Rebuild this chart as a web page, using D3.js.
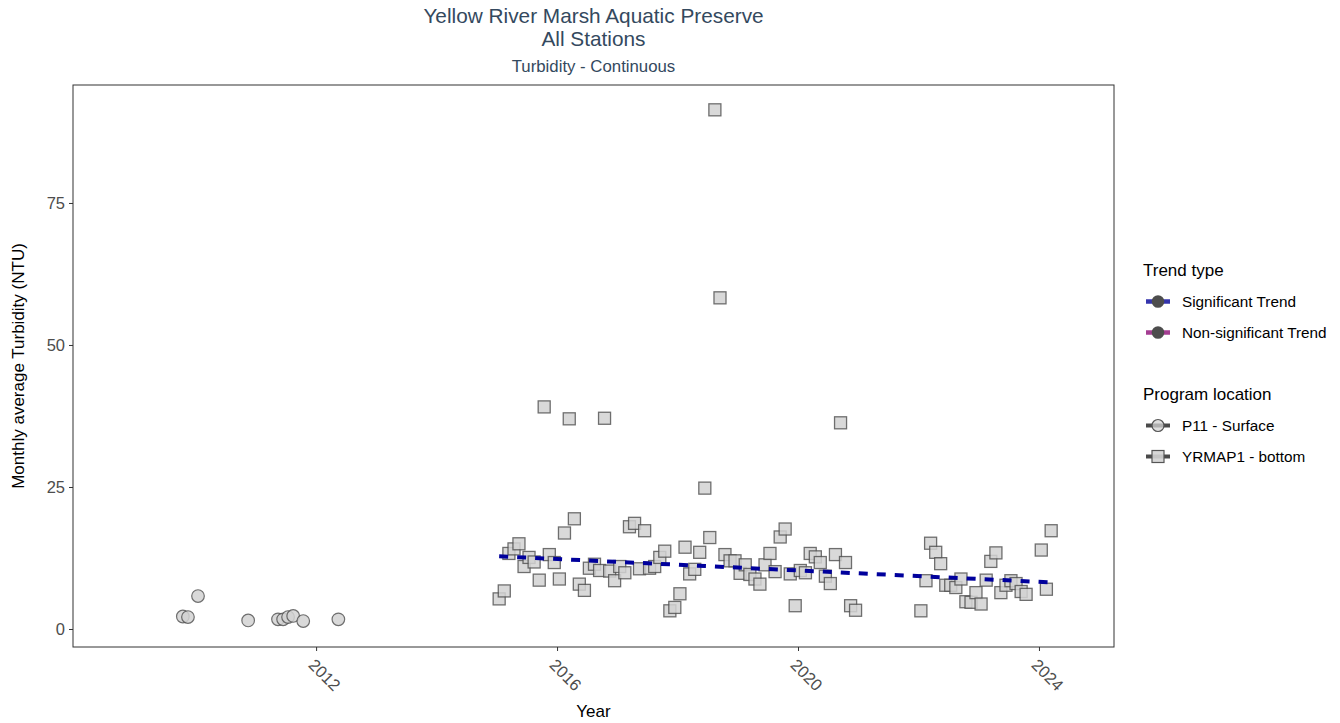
<!DOCTYPE html>
<meta charset="utf-8">
<style>
body { margin: 0; background: #fff; }
text { font-family: "Liberation Sans", Arial, sans-serif; }
</style>
<svg width="1340" height="723"></svg>
<script src="https://cdn.jsdelivr.net/npm/d3@7"></script>
<script>

// P11 - Surface (circles)
var p11Months = ["2009-10", "2009-11", "2010-01", "2010-11", "2011-05",
                 "2011-06", "2011-07", "2011-08", "2011-10", "2012-05"];
var p11Values = [2.2, 2.1, 5.8, 1.5, 1.7, 1.7, 2.1, 2.3, 1.4, 1.7];

// YRMAP1 - bottom (squares)
var yrmapMonths = [
  "2015-01","2015-02","2015-03","2015-04","2015-05","2015-06","2015-07","2015-08","2015-09","2015-10","2015-11","2015-12",
  "2016-01","2016-02","2016-03","2016-04","2016-05","2016-06","2016-07","2016-08","2016-09","2016-10","2016-11","2016-12",
  "2017-01","2017-02","2017-03","2017-04","2017-05","2017-06","2017-07","2017-08","2017-09","2017-10","2017-11","2017-12",
  "2018-01","2018-02","2018-03","2018-04","2018-05","2018-06","2018-07","2018-08","2018-09","2018-10","2018-11","2018-12",
  "2019-01","2019-02","2019-03","2019-04","2019-05","2019-06","2019-07","2019-08","2019-09","2019-10","2019-11","2019-12",
  "2020-01","2020-02","2020-03","2020-04","2020-05","2020-06","2020-07","2020-08","2020-09","2020-10","2020-11","2020-12",
  "2022-01","2022-02","2022-03","2022-04","2022-05","2022-06","2022-07","2022-08","2022-09","2022-10","2022-11","2022-12",
  "2023-01","2023-02","2023-03","2023-04","2023-05","2023-06","2023-07","2023-08","2023-09","2023-10",
  "2024-01","2024-02","2024-03"];
var yrmapValues = [
  5.3, 6.7, 13.3, 14.1, 15.0, 11.0, 12.6, 11.8, 8.6, 39.1, 13.1, 11.7,
  8.8, 16.9, 37.0, 19.4, 7.9, 6.8, 10.7, 11.4, 10.3, 37.1, 10.2, 8.5,
  11.0, 9.9, 18.0, 18.6, 10.6, 17.3, 10.7, 11.0, 12.6, 13.7, 3.2, 3.8,
  6.2, 14.4, 9.7, 10.5, 13.5, 24.8, 16.1, 91.4, 58.3, 13.1, 12.0, 12.0,
  9.8, 11.3, 9.6, 8.8, 7.9, 11.3, 13.3, 10.1, 16.2, 17.6, 9.7, 4.1,
  10.3, 9.9, 13.3, 12.7, 11.7, 9.3, 8.0, 13.1, 36.3, 11.7, 4.1, 3.3,
  3.2, 8.5, 15.1, 13.5, 11.5, 7.7, 7.7, 7.3, 8.8, 4.8, 4.7, 6.4,
  4.4, 8.6, 11.9, 13.4, 6.4, 7.7, 8.5, 8.0, 6.6, 6.1,
  13.9, 7.0, 17.3];

// significant trend, YRMAP1
var trendMonths = ["2015-01", "2024-03"];
var trendValues = [12.8, 8.2];

var yearTicks = [2012, 2016, 2020, 2024];
var valueTicks = [0, 25, 50, 75];

var trendKeys = ["Significant Trend", "Non-significant Trend"];
var trendColors = ["#3434ad", "#a43d92"];
var locationKeys = ["P11 - Surface", "YRMAP1 - bottom"];

var svg = d3.select("svg");

// panel box
var pLeft = 73, pRight = 1114, pTop = 85, pBottom = 647;

var parseMonth = d3.timeParse("%Y-%m");
function midMonth(s) { var d = parseMonth(s); d.setDate(15); return d; }

var x = d3.scaleTime()
    .domain([new Date(2007, 11, 19), new Date(2025, 2, 31)])
    .range([pLeft, pRight]);

var y = d3.scaleLinear()
    .domain([-3.17, 95.77])
    .range([pBottom, pTop]);

// titles
var titleColor = "#34495e";
var cx = (pLeft + pRight) / 2;
svg.append("text").attr("x", cx).attr("y", 23).attr("text-anchor", "middle")
    .attr("fill", titleColor).style("font-size", "20.8px")
    .text("Yellow River Marsh Aquatic Preserve");
svg.append("text").attr("x", cx).attr("y", 46).attr("text-anchor", "middle")
    .attr("fill", titleColor).style("font-size", "20.8px")
    .text("All Stations");
svg.append("text").attr("x", cx).attr("y", 72).attr("text-anchor", "middle")
    .attr("fill", titleColor).style("font-size", "16.8px")
    .text("Turbidity - Continuous");

// axes
var xAxis = svg.append("g")
    .attr("transform", "translate(0," + pBottom + ")")
    .call(d3.axisBottom(x)
      .tickValues(yearTicks.map(function(yr) { return new Date(yr, 0, 1); }))
      .tickFormat(d3.timeFormat("%Y"))
      .tickSize(4));
xAxis.select(".domain").remove();
xAxis.selectAll(".tick line").attr("stroke", "#333");
xAxis.selectAll(".tick text")
    .attr("fill", "#4d4d4d")
    .style("font-size", "16.5px")
    .attr("x", -9).attr("y", 19).attr("dy", null)
    .attr("text-anchor", "start")
    .attr("transform", "rotate(45,-9,19)");

var yAxis = svg.append("g")
    .attr("transform", "translate(" + pLeft + ",0)")
    .call(d3.axisLeft(y).tickValues(valueTicks).tickSize(4).tickPadding(4));
yAxis.select(".domain").remove();
yAxis.selectAll(".tick line").attr("stroke", "#333");
yAxis.selectAll(".tick text").attr("fill", "#4d4d4d").style("font-size", "16.5px");

svg.append("text")
    .attr("x", cx).attr("y", 717)
    .attr("text-anchor", "middle")
    .style("font-size", "17px")
    .text("Year");

svg.append("text")
    .attr("transform", "translate(24," + ((pTop + pBottom) / 2) + ") rotate(-90)")
    .attr("text-anchor", "middle")
    .style("font-size", "17px")
    .text("Monthly average Turbidity (NTU)");

// points
var pts = svg.append("g");

pts.selectAll("circle")
  .data(p11Months)
  .enter().append("circle")
    .attr("cx", function(d) { return x(midMonth(d)); })
    .attr("cy", function(d, i) { return y(p11Values[i]); })
    .attr("r", 6.3)
    .attr("fill", "#d3d3d3")
    .attr("stroke", "#555")
    .attr("stroke-width", 1.2)
    .attr("opacity", 0.85);

var side = 12;
pts.selectAll("rect")
  .data(yrmapMonths)
  .enter().append("rect")
    .attr("x", function(d) { return x(midMonth(d)) - side / 2; })
    .attr("y", function(d, i) { return y(yrmapValues[i]) - side / 2; })
    .attr("width", side)
    .attr("height", side)
    .attr("fill", "#d3d3d3")
    .attr("stroke", "#555")
    .attr("stroke-width", 1.3)
    .attr("opacity", 0.85);

// trend line
var line = d3.line()
    .x(function(d) { return x(midMonth(d)); })
    .y(function(d, i) { return y(trendValues[i]); });

svg.append("path")
    .datum(trendMonths)
    .attr("d", line)
    .attr("fill", "none")
    .attr("stroke", "#00009c")
    .attr("stroke-width", 4)
    .attr("stroke-dasharray", "9,9");

// panel border
svg.append("rect")
    .attr("x", pLeft).attr("y", pTop)
    .attr("width", pRight - pLeft).attr("height", pBottom - pTop)
    .attr("fill", "none")
    .attr("stroke", "#333")
    .attr("stroke-width", 1);

// legend
var lg = svg.append("g");
lg.append("text").attr("x", 1143).attr("y", 276).style("font-size", "17px").text("Trend type");

trendKeys.forEach(function(k, i) {
  var ky = 301.5 + i * 31;
  lg.append("line").attr("x1", 1146).attr("x2", 1170).attr("y1", ky).attr("y2", ky)
      .attr("stroke", trendColors[i]).attr("stroke-width", 4.5);
  lg.append("circle").attr("cx", 1158).attr("cy", ky).attr("r", 6.3)
      .attr("fill", "#4d4d4d");
  lg.append("text").attr("x", 1182).attr("y", ky + 5.5).style("font-size", "15.3px").text(k);
});

lg.append("text").attr("x", 1143).attr("y", 400).style("font-size", "17px").text("Program location");

locationKeys.forEach(function(k, i) {
  var ky = 425.5 + i * 31;
  lg.append("line").attr("x1", 1146).attr("x2", 1170).attr("y1", ky).attr("y2", ky)
      .attr("stroke", "#4a4a4a").attr("stroke-width", 4);
  if (i == 0) {
    lg.append("circle").attr("cx", 1158).attr("cy", ky).attr("r", 6)
        .attr("fill", "#d3d3d3").attr("fill-opacity", 0.75)
        .attr("stroke", "#555").attr("stroke-width", 1.2);
  } else {
    lg.append("rect").attr("x", 1152).attr("y", ky - 6).attr("width", 12).attr("height", 12)
        .attr("fill", "#d3d3d3").attr("fill-opacity", 0.9)
        .attr("stroke", "#555").attr("stroke-width", 1.2);
  }
  lg.append("text").attr("x", 1182).attr("y", ky + 5.5).style("font-size", "15.3px").text(k);
});

</script>
